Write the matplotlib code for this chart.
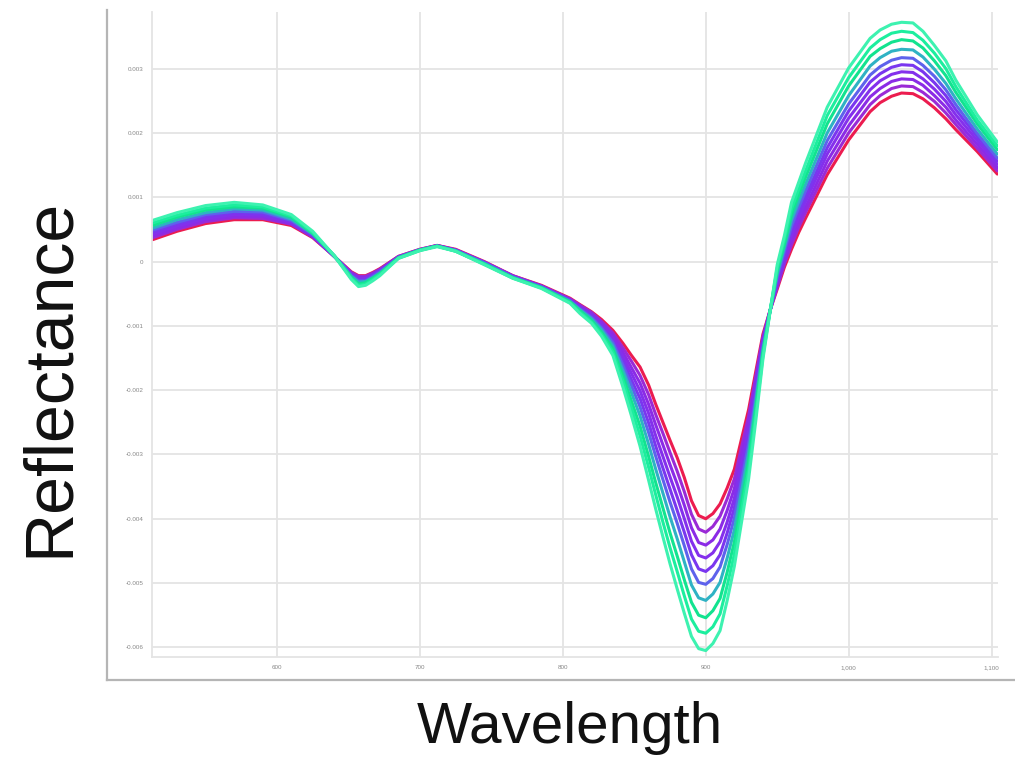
import numpy as np
import matplotlib
matplotlib.use("Agg")
import matplotlib.pyplot as plt
from matplotlib.lines import Line2D

plt.rcParams['font.family'] = ['Liberation Sans', 'DejaVu Sans']

# wavelength samples (nm)
wavelength = [513, 530, 550, 570, 590, 610, 625, 640, 652, 657, 662, 667, 672, 685,
              700, 712, 725, 745, 765, 785, 805, 812, 820, 827, 835, 842, 848, 854,
              860, 865, 870, 875, 880, 885, 890, 895, 900, 905, 910, 915, 920, 925,
              930, 935, 940, 945, 950, 955, 960, 965, 970, 985, 1000, 1015, 1022, 1030,
              1037, 1045, 1052, 1060, 1068, 1075, 1090, 1104]

# reflectance in units of 1e-4, one list per sample (red ... green)
refl_s01 = [3.4, 4.7, 5.9, 6.5, 6.5, 5.6, 3.7, 0.8, -1.6, -2.2, -2.2, -1.7, -1.1, 0.8,
            1.9, 2.5, 1.9, 0.0, -2.2, -3.7, -5.7, -6.7, -7.8, -9.0, -10.7, -12.7, -14.6, -16.4,
            -19.2, -22.2, -25.0, -27.8, -30.5, -33.6, -37.2, -39.5, -40.0, -39.2, -37.7, -35.2, -32.3, -27.6,
            -23.0, -17.1, -11.3, -7.6, -4.3, -0.9, 1.9, 4.5, 6.8, 13.5, 18.9, 23.3, 24.7, 25.7,
            26.2, 26.1, 25.3, 23.9, 22.2, 20.5, 17.1, 13.6]
refl_s02 = [3.7, 5.0, 6.2, 6.8, 6.7, 5.8, 3.8, 0.8, -1.7, -2.3, -2.3, -1.8, -1.2, 0.8,
            1.9, 2.5, 1.8, -0.1, -2.2, -3.8, -5.8, -6.8, -7.9, -9.3, -11.1, -13.4, -15.5, -17.7,
            -20.7, -23.8, -26.7, -29.7, -32.6, -35.8, -39.3, -41.6, -42.1, -41.2, -39.6, -36.9, -33.8, -28.9,
            -24.0, -17.8, -11.7, -7.6, -4.0, -0.4, 2.6, 5.3, 7.7, 14.5, 20.0, 24.4, 25.8, 26.9,
            27.3, 27.2, 26.3, 24.9, 23.1, 21.3, 17.6, 14.1]
refl_s03 = [4.0, 5.2, 6.5, 7.0, 7.0, 5.9, 3.9, 0.8, -1.8, -2.5, -2.5, -2.0, -1.3, 0.7,
            1.8, 2.5, 1.8, -0.1, -2.3, -3.8, -5.9, -7.0, -8.1, -9.5, -11.5, -14.1, -16.5, -18.9,
            -22.2, -25.4, -28.5, -31.6, -34.6, -37.9, -41.4, -43.7, -44.1, -43.3, -41.6, -38.7, -35.3, -30.2,
            -25.1, -18.6, -12.1, -7.6, -3.6, 0.1, 3.3, 6.1, 8.5, 15.6, 21.1, 25.6, 26.9, 28.0,
            28.4, 28.3, 27.4, 25.8, 24.0, 22.0, 18.2, 14.6]
refl_s04 = [4.3, 5.5, 6.7, 7.3, 7.2, 6.1, 4.0, 0.8, -1.9, -2.7, -2.6, -2.1, -1.4, 0.7,
            1.8, 2.4, 1.8, -0.1, -2.3, -3.9, -6.0, -7.1, -8.3, -9.8, -11.9, -14.8, -17.4, -20.1,
            -23.6, -27.1, -30.3, -33.5, -36.6, -40.0, -43.5, -45.7, -46.1, -45.3, -43.6, -40.5, -36.8, -31.5,
            -26.2, -19.4, -12.5, -7.7, -3.2, 0.6, 4.1, 6.8, 9.4, 16.7, 22.3, 26.7, 28.1, 29.1,
            29.5, 29.4, 28.4, 26.8, 24.9, 22.8, 18.8, 15.1]
refl_s05 = [4.6, 5.8, 7.0, 7.6, 7.4, 6.3, 4.1, 0.8, -2.1, -2.9, -2.8, -2.2, -1.5, 0.7,
            1.8, 2.4, 1.7, -0.2, -2.4, -3.9, -6.1, -7.2, -8.5, -10.1, -12.3, -15.4, -18.4, -21.3,
            -25.1, -28.7, -32.1, -35.4, -38.7, -42.1, -45.6, -47.8, -48.2, -47.3, -45.6, -42.2, -38.3, -32.8,
            -27.3, -20.2, -12.9, -7.7, -2.8, 1.1, 4.8, 7.6, 10.2, 17.7, 23.4, 27.9, 29.2, 30.2,
            30.6, 30.5, 29.5, 27.8, 25.8, 23.6, 19.4, 15.6]
refl_s06 = [4.9, 6.1, 7.3, 7.8, 7.7, 6.4, 4.2, 0.9, -2.2, -3.0, -3.0, -2.3, -1.6, 0.6,
            1.8, 2.4, 1.7, -0.2, -2.4, -4.0, -6.1, -7.4, -8.7, -10.3, -12.6, -16.1, -19.3, -22.6,
            -26.6, -30.3, -33.9, -37.4, -40.7, -44.2, -47.8, -49.9, -50.2, -49.3, -47.5, -44.0, -39.9, -34.1,
            -28.4, -20.9, -13.3, -7.7, -2.4, 1.6, 5.5, 8.4, 11.1, 18.8, 24.5, 29.0, 30.3, 31.3,
            31.7, 31.6, 30.5, 28.8, 26.7, 24.4, 19.9, 16.1]
refl_s07 = [5.2, 6.5, 7.6, 8.2, 8.0, 6.6, 4.3, 0.9, -2.3, -3.2, -3.1, -2.5, -1.8, 0.6,
            1.8, 2.4, 1.7, -0.3, -2.5, -4.0, -6.2, -7.5, -8.9, -10.6, -13.1, -16.9, -20.4, -24.0,
            -28.4, -32.3, -36.0, -39.7, -43.1, -46.7, -50.3, -52.3, -52.7, -51.7, -49.9, -46.1, -41.7, -35.7,
            -29.7, -21.9, -13.7, -7.7, -1.9, 2.2, 6.4, 9.3, 12.1, 20.0, 25.8, 30.4, 31.7, 32.7,
            33.0, 32.9, 31.8, 29.9, 27.7, 25.3, 20.6, 16.7]
refl_s08 = [5.6, 6.9, 8.0, 8.5, 8.3, 6.9, 4.4, 0.9, -2.5, -3.5, -3.3, -2.6, -1.9, 0.6,
            1.8, 2.4, 1.6, -0.4, -2.5, -4.1, -6.3, -7.7, -9.2, -11.0, -13.6, -17.8, -21.7, -25.6,
            -30.3, -34.4, -38.3, -42.2, -45.8, -49.5, -53.0, -55.0, -55.4, -54.3, -52.4, -48.3, -43.6, -37.4,
            -31.1, -22.9, -14.2, -7.7, -1.4, 2.8, 7.3, 10.3, 13.2, 21.4, 27.3, 31.9, 33.1, 34.1,
            34.5, 34.3, 33.2, 31.2, 28.9, 26.3, 21.4, 17.4]
refl_s09 = [6.0, 7.2, 8.3, 8.8, 8.5, 7.1, 4.5, 0.9, -2.6, -3.7, -3.5, -2.8, -2.0, 0.5,
            1.7, 2.4, 1.6, -0.4, -2.6, -4.1, -6.4, -7.9, -9.4, -11.3, -14.1, -18.6, -22.8, -27.1,
            -32.0, -36.3, -40.5, -44.5, -48.2, -52.0, -55.6, -57.5, -57.8, -56.8, -54.8, -50.4, -45.5, -38.9,
            -32.4, -23.8, -14.7, -7.7, -1.0, 3.4, 8.2, 11.2, 14.2, 22.7, 28.6, 33.2, 34.5, 35.5,
            35.8, 35.6, 34.4, 32.4, 30.0, 27.2, 22.0, 18.0]
refl_s10 = [6.4, 7.6, 8.7, 9.2, 8.8, 7.3, 4.7, 0.9, -2.8, -3.9, -3.7, -3.0, -2.2, 0.5,
            1.7, 2.3, 1.6, -0.5, -2.6, -4.2, -6.5, -8.1, -9.6, -11.6, -14.6, -19.5, -24.0, -28.7,
            -34.0, -38.5, -42.8, -47.0, -50.9, -54.7, -58.3, -60.2, -60.5, -59.4, -57.4, -52.7, -47.4, -40.6,
            -33.8, -24.8, -15.2, -7.8, -0.5, 4.0, 9.2, 12.3, 15.4, 24.0, 30.1, 34.7, 36.0, 36.9,
            37.2, 37.1, 35.8, 33.6, 31.2, 28.2, 22.8, 18.6]

sample_colors = ['#ec1c4f', '#9a2ad6', '#8b2be6', '#8430ec', '#7a36ef',
                 '#5e62ec', '#2fb2c4', '#12e38f', '#1cee9e', '#3df2b0']

xtick_vals = [600, 700, 800, 900, 1000, 1100]
xtick_labels = ['600', '700', '800', '900', '1,000', '1,100']
ytick_vals = [0.003, 0.002, 0.001, 0, -0.001, -0.002, -0.003, -0.004, -0.005, -0.006]
ytick_labels = ['0.003', '0.002', '0.001', '0', '-0.001', '-0.002', '-0.003',
                '-0.004', '-0.005', '-0.006']

samples = [refl_s01, refl_s02, refl_s03, refl_s04, refl_s05,
           refl_s06, refl_s07, refl_s08, refl_s09, refl_s10]

fig = plt.figure(figsize=(10.15, 7.63), dpi=100)
ax = fig.add_axes([152 / 1015, 1 - 657 / 763, 846 / 1015, 645 / 763])

x = np.array(wavelength)
for vals, col in zip(samples, sample_colors):
    ax.plot(x, np.array(vals) * 1e-4, color=col, lw=2.2, solid_capstyle='round',
            solid_joinstyle='round')

ax.set_xlim(512.5, 1104.5)
ax.set_ylim(-0.00615, 0.00388)
ax.set_xticks(xtick_vals)
ax.set_xticklabels(xtick_labels)
ax.set_yticks(ytick_vals)
ax.set_yticklabels(ytick_labels)
ax.tick_params(axis='both', length=0, labelsize=4.5, labelcolor='#888888', pad=6)
ax.grid(True, color='#e4e4e4', lw=1.3)
ax.set_axisbelow(True)
for side in ['top', 'right']:
    ax.spines[side].set_visible(False)
for side in ['left', 'bottom']:
    ax.spines[side].set_color('#e4e4e4')
    ax.spines[side].set_linewidth(1.3)

# outer frame lines of the screenshot
fig.add_artist(Line2D([107 / 1015, 107 / 1015], [1 - 680 / 763, 1 - 10 / 763],
                      transform=fig.transFigure, color='#b5b5b5', lw=1.6))
fig.add_artist(Line2D([107 / 1015, 1.0], [1 - 680 / 763, 1 - 680 / 763],
                      transform=fig.transFigure, color='#b5b5b5', lw=1.6))

fig.text(50 / 1015, 1 - 377 / 763, 'Reflectance', rotation=90, fontsize=49,
         ha='center', va='center', color='#111111')
fig.text(570 / 1015, 1 - 728 / 763, 'Wavelength', fontsize=42,
         ha='center', va='center', color='#111111')

fig.savefig('out.png', dpi=100)
